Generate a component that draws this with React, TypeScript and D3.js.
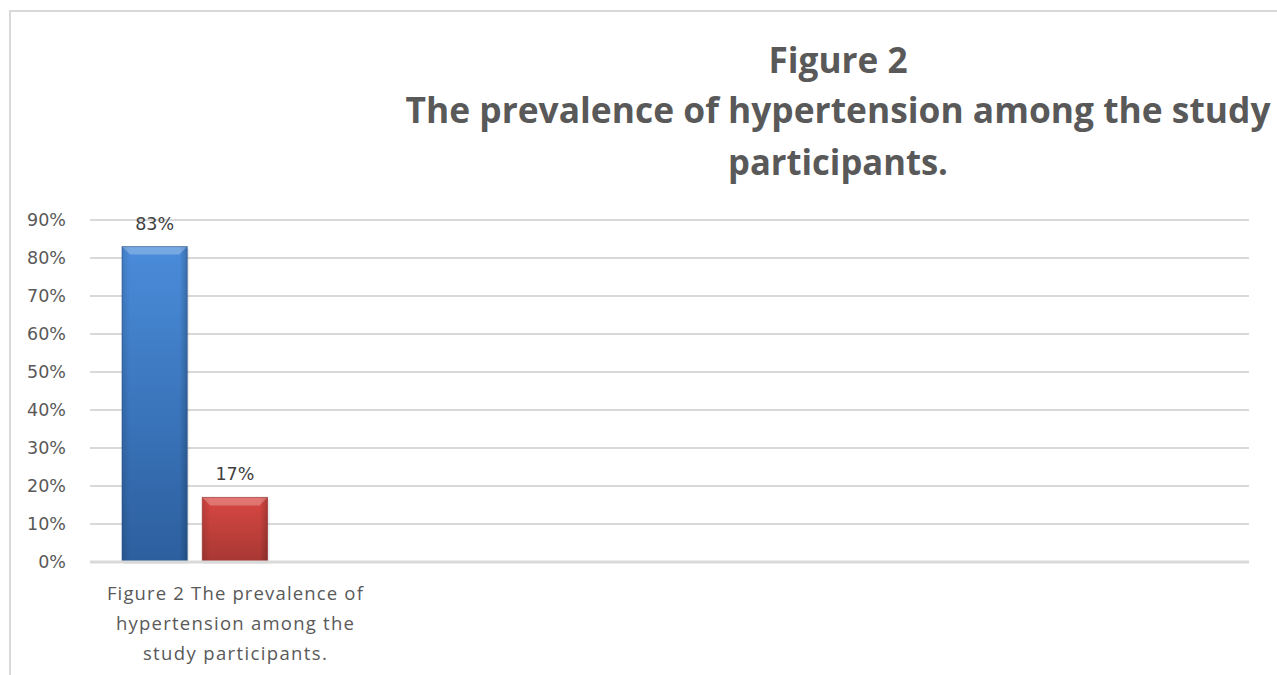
import React, { useEffect, useRef } from 'react';
import * as d3 from 'd3';

const categories = ['Figure 2 The prevalence of hypertension among the study participants.', '', '', ''];
const categoryLines = [['Figure 2 The prevalence of', 'hypertension among the', 'study participants.'], [], [], []];
const categoryLineWidths = [256, 238, 184];
const seriesNames = ['Hypertensive', 'Normotensive', 'Series 3'];
const seriesValues: (number | null)[][] = [[0.83, null, null, null], [0.17, null, null, null], [null, null, null, null]];
const yTicks = [0, 0.1, 0.2, 0.3, 0.4, 0.5, 0.6, 0.7, 0.8, 0.9];
const titleLines = ['Figure 2', 'The prevalence of hypertension among the study', 'participants.'];

const W = 1277;
const H = 675;

export default function App() {
  const svgRef = useRef<SVGSVGElement>(null);

  useEffect(() => {
    if (!svgRef.current) return;
    const svg = d3.select(svgRef.current);
    svg.selectAll('*').remove();

    const margin = { top: 220, right: 28, bottom: 113, left: 90 };
    const width = W - margin.left - margin.right;
    const height = H - margin.top - margin.bottom;

    const defs = svg.append('defs');
    const grads = [
      { id: 'g0', top: '#4a8cda', bottom: '#2c5f9e' },
      { id: 'g1', top: '#d94843', bottom: '#a73733' },
      { id: 'g2', top: '#9bbb59', bottom: '#76923c' },
    ];
    grads.forEach(g => {
      const lg = defs.append('linearGradient').attr('id', g.id).attr('x1', 0).attr('y1', 0).attr('x2', 0).attr('y2', 1);
      lg.append('stop').attr('offset', '0%').attr('stop-color', g.top);
      lg.append('stop').attr('offset', '100%').attr('stop-color', g.bottom);
    });
    const side = defs.append('linearGradient').attr('id', 'side').attr('x1', 0).attr('y1', 0).attr('x2', 1).attr('y2', 0);
    side.append('stop').attr('offset', '0%').attr('stop-color', '#000').attr('stop-opacity', 0.12);
    side.append('stop').attr('offset', '12%').attr('stop-color', '#000').attr('stop-opacity', 0);
    side.append('stop').attr('offset', '88%').attr('stop-color', '#000').attr('stop-opacity', 0);
    side.append('stop').attr('offset', '100%').attr('stop-color', '#000').attr('stop-opacity', 0.2);

    svg.append('rect').attr('width', W).attr('height', H).attr('fill', '#fff');
    // outer chart frame (extends past the window edge)
    svg.append('rect')
      .attr('x', 10).attr('y', 11).attr('width', W + 20).attr('height', H + 20)
      .attr('fill', 'none').attr('stroke', '#d9d9d9').attr('stroke-width', 2);

    // title
    const title = svg.append('g').attr('fill', '#595959')
      .style('font-family', 'Open Sans, sans-serif').style('font-weight', 700);
    const titleY = [73, 123, 175];
    const titleW = [139, 865, 220];
    titleLines.forEach((t, i) => {
      title.append('text')
        .attr('x', 838).attr('y', titleY[i])
        .attr('text-anchor', 'middle')
        .attr('font-size', 35)
        .attr('textLength', titleW[i])
        .attr('lengthAdjust', 'spacingAndGlyphs')
        .text(t);
    });

    const g = svg.append('g').attr('transform', `translate(${margin.left},${margin.top})`);

    const y = d3.scaleLinear().domain([0, 0.9]).range([height, 0]);
    const x0 = d3.scaleBand().domain(categories.map((_, i) => String(i))).range([0, width]);
    const x1 = d3.scaleBand().domain(seriesNames).range([32, x0.bandwidth() - 32]).paddingInner(0.187);

    // gridlines
    g.append('g').selectAll('line').data(yTicks.filter(t => t > 0)).enter().append('line')
      .attr('x1', 0).attr('x2', width)
      .attr('y1', d => y(d)).attr('y2', d => y(d))
      .attr('stroke', '#d9d9d9').attr('stroke-width', 2);

    // y tick labels
    g.append('g').selectAll('text').data(yTicks).enter().append('text')
      .attr('x', -24).attr('y', d => y(d)).attr('dy', '0.36em')
      .attr('text-anchor', 'end')
      .attr('fill', '#595959')
      .style('font-family', 'DejaVu Sans, sans-serif').style('font-size', '17.5px')
      .text(d => d3.format('.0%')(d));

    // bars
    seriesNames.forEach((s, si) => {
      const vals = seriesValues[si];
      vals.forEach((v, ci) => {
        if (v == null) return;
        const bx = (x0(String(ci)) ?? 0) + (x1(s) ?? 0);
        const bw = x1.bandwidth();
        const by = y(v);
        const bh = height - by;
        const bar = g.append('g');
        bar.append('rect').attr('x', bx + 2).attr('y', by + 2).attr('width', bw).attr('height', bh)
          .attr('fill', '#000').attr('opacity', 0.08);
        bar.append('rect').attr('x', bx).attr('y', by).attr('width', bw).attr('height', bh)
          .attr('fill', `url(#g${si})`);
        bar.append('rect').attr('x', bx).attr('y', by).attr('width', bw).attr('height', bh)
          .attr('fill', 'url(#side)');
        // bevel at top
        bar.append('path')
          .attr('d', `M${bx},${by}L${bx + bw},${by}L${bx + bw - 8},${by + 8}L${bx + 8},${by + 8}Z`)
          .attr('fill', '#fff').attr('opacity', 0.25);
        bar.append('rect').attr('x', bx).attr('y', by).attr('width', bw).attr('height', bh)
          .attr('fill', 'none').attr('stroke', si === 0 ? '#24518a' : '#8f2e2b').attr('stroke-width', 1).attr('opacity', 0.6);
        g.append('text')
          .attr('x', bx + bw / 2).attr('y', by - 17)
          .attr('text-anchor', 'middle')
          .attr('fill', '#404040')
          .style('font-family', 'DejaVu Sans, sans-serif').style('font-size', '17.5px')
          .text(d3.format('.0%')(v));
      });
    });

    // baseline axis
    g.append('line').attr('x1', 0).attr('x2', width).attr('y1', height).attr('y2', height)
      .attr('stroke', '#d9d9d9').attr('stroke-width', 3);

    // category labels
    categoryLines.forEach((lines, ci) => {
      const cx = (x0(String(ci)) ?? 0) + x0.bandwidth() / 2;
      lines.forEach((ln, li) => {
        g.append('text')
          .attr('x', cx).attr('y', height + 38 + li * 30)
          .attr('text-anchor', 'middle')
          .attr('fill', '#595959')
          .attr('textLength', categoryLineWidths[li])
          .attr('lengthAdjust', 'spacing')
          .style('font-family', 'Open Sans, sans-serif').style('font-size', '18.5px')
          .text(ln);
      });
    });
  }, []);

  return (
    <div style={{ position: 'fixed', left: 0, top: 0 }}>
      <svg ref={svgRef} width={W} height={H} style={{ display: 'block' }} />
    </div>
  );
}
